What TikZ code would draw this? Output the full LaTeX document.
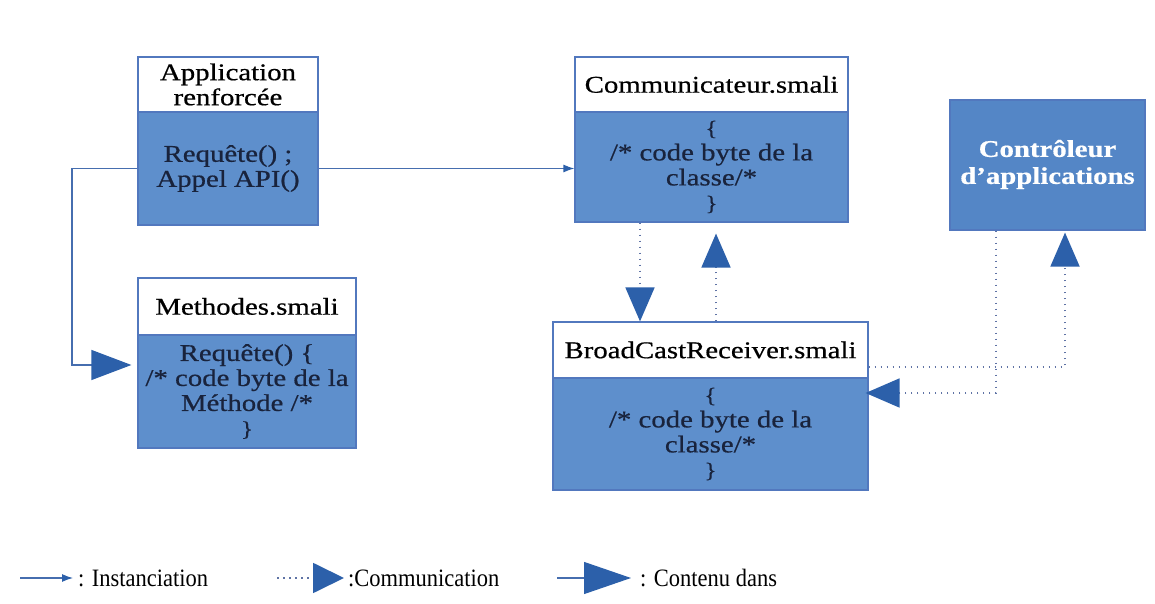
\documentclass[tikz,border=0pt]{standalone}
\usepackage{fontspec}
\setmainfont{Liberation Serif}[FakeStretch=1.2,FakeBold=0.6]
\newfontfamily\legfont{Liberation Serif}[FakeStretch=0.9]
\usetikzlibrary{arrows.meta}
\definecolor{boxblue}{RGB}{94,143,204}
\definecolor{ctrlblue}{RGB}{84,134,198}
\definecolor{edgeblue}{RGB}{82,120,190}
\definecolor{tipblue}{RGB}{44,96,170}
\definecolor{lineblue}{RGB}{70,110,175}
\definecolor{dotblue}{RGB}{95,115,165}
\definecolor{txtdark}{RGB}{25,35,60}
\begin{document}
\begin{tikzpicture}[x=1pt,y=1pt,
  hdr/.style={draw=edgeblue, line width=1.2pt, fill=white, inner sep=0pt, align=center,
    font=\fontsize{24}{25}\selectfont, text=black},
  bdy/.style={draw=edgeblue, line width=1.2pt, fill=boxblue, inner sep=0pt, align=center,
    font=\fontsize{24}{25}\selectfont, text=txtdark},
  ctrlbox/.style={draw=edgeblue, line width=1.2pt, fill=ctrlblue, inner sep=0pt, align=center,
    font=\bfseries\fontsize{24}{27}\selectfont, text=white},
  leg/.style={inner sep=0pt, font=\legfont\fontsize{25}{25}\selectfont, text=black},
  inst/.style={draw=lineblue, line width=1.2pt, -{Latex[length=11pt,width=8pt,color=tipblue]}},
  contain/.style={draw=lineblue, line width=1.2pt, -{Triangle[length=40pt,width=30pt,color=tipblue]}},
  comm/.style={draw=dotblue, line width=1.8pt, dash pattern=on 1.8pt off 4.2pt, -{Triangle[length=34pt,width=29pt,color=tipblue]}}
]
\useasboundingbox (0,0) rectangle (1155,604);
\fill[white] (0,0) rectangle (1155,604);

% boxes
\node[hdr, minimum width=180pt, minimum height=55pt] (appH) at (228,519.5) {Application\\renforcée};
\node[bdy, minimum width=180pt, minimum height=113pt] (appB) at (228,435.5) {Requête() ;\\Appel API()};
\node[hdr, minimum width=218pt, minimum height=57pt] (methH) at (247,297.5) {Methodes.smali};
\node[bdy, minimum width=218pt, minimum height=113pt] (methB) at (247,212.5) {Requête() \{\\/* code byte de la\\Méthode /*\\{\fontsize{21}{21}\selectfont\}}};
\node[hdr, minimum width=273pt, minimum height=55pt] (comH) at (711.5,519.5) {Communicateur.smali};
\node[bdy, minimum width=273pt, minimum height=110pt] (comB) at (711.5,437) {{\fontsize{21}{21}\selectfont\{}\\/* code byte de la\\classe/*\\{\fontsize{21}{21}\selectfont\}}};
\node[hdr, minimum width=315pt, minimum height=56pt] (brH) at (710.5,254) {BroadCastReceiver.smali};
\node[bdy, minimum width=315pt, minimum height=112pt] (brB) at (710.5,170) {{\fontsize{21}{21}\selectfont\{}\\/* code byte de la\\classe/*\\{\fontsize{21}{21}\selectfont\}}};
\node[ctrlbox, minimum width=195pt, minimum height=130pt] (ctrl) at (1047.5,439) {\raisebox{8pt}{\begin{tabular}{@{}c@{}}Contrôleur\\d'applications\end{tabular}}};

% connectors
\coordinate (k1) at (72,239);
\draw[contain, shorten >=6pt] (appB.west) -| (k1) -- (k1 -| methB.west);
\draw[inst] (appB.east) -- (appB.east -| comB.west);
\coordinate (k2) at (640,0);
\draw[comm] (comB.south -| k2) -- (brH.north -| k2);
\coordinate (k3) at (716,0);
\draw[comm, shorten >=11pt] (brH.north -| k3) -- (comB.south -| k3);
\coordinate (k4) at (996,211);
\draw[comm, shorten >=-3pt] (ctrl.south -| k4) |- (brB.east |- k4);
\coordinate (k5) at (1065,237);
\draw[comm, shorten >=2pt] (brH.east |- k5) -| (ctrl.south -| k5);

% legend
\node[leg, anchor=west] (L1) at (78,26) {: Instanciation};
\coordinate (L1s) at (20,26);
\draw[inst, shorten >=5pt] (L1s) -- (L1.west);
\node[leg, anchor=west] (L2) at (348,26) {:Communication};
\coordinate (L2s) at (277,26);
\draw[comm, -{Triangle[length=31pt,width=30pt,color=tipblue]}, shorten >=4pt] (L2s) -- (L2.west);
\node[leg, anchor=west] (L3) at (640,26) {: Contenu dans};
\coordinate (L3s) at (557,26);
\draw[contain, -{Triangle[length=47pt,width=32pt,color=tipblue]}, shorten >=9pt] (L3s) -- (L3.west);
\end{tikzpicture}
\end{document}
